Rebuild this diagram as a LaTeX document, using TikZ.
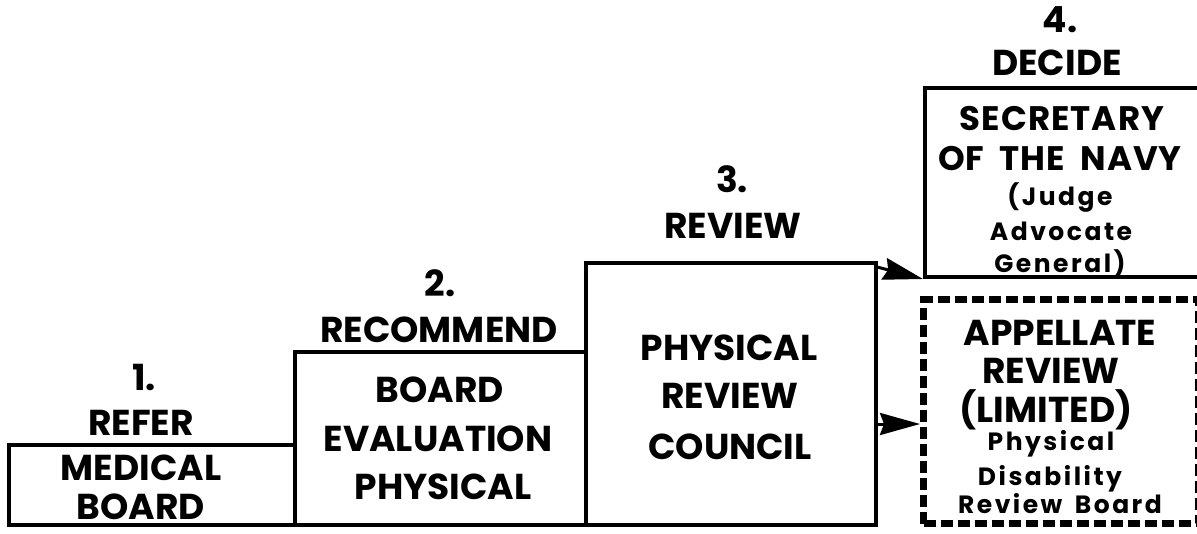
\documentclass[tikz,border=0pt]{standalone}
\usepackage{fontspec}
\usetikzlibrary{arrows.meta}
\newfontfamily\fut{Poppins}
\newfontfamily\futsp{Poppins}[LetterSpace=10]
\newfontfamily\futmid{Poppins}[LetterSpace=3]
\newcommand\tbig{\fut\bfseries\fontsize{36}{40}\selectfont}
\newcommand\tmid{\futmid\bfseries\fontsize{34}{38}\selectfont}
\newcommand\tsmall{\futsp\bfseries\fontsize{25}{30}\selectfont}
\begin{document}
\begin{tikzpicture}[x=1pt,y=-1pt,
  box/.style={draw, line width=4pt, inner sep=0pt, anchor=south west},
  dbox/.style={draw, line width=7pt, inner sep=0pt, anchor=south west, dash pattern=on 12pt off 5pt},
  tb/.style={font=\tbig, anchor=base, inner sep=0pt},
  tm/.style={font=\tmid, anchor=base, inner sep=0pt},
  ts/.style={font=\tsmall, anchor=base, inner sep=0pt},
  arr/.style={line width=3pt, -{Stealth[length=40pt,width=22pt,inset=4pt]}}]
\useasboundingbox (0,0) rectangle (1197,533);
% boxes
\node[box, minimum width=286pt, minimum height=80pt] (b1) at (7,527) {};
\node[box, minimum width=291pt, minimum height=173pt] (b2) at (293,527) {};
\node[box, minimum width=290pt, minimum height=262pt] (b3) at (584,527) {};
\node[box, minimum width=280pt, minimum height=189pt] (b4) at (923,279) {};
\node[dbox, minimum width=275pt, minimum height=224pt] (b5) at (920,527) {};
% step labels
\node[tb] (l1a) at (144,390) {1.};
\node[tb] (l1b) at (141,435) {REFER};
\node[tb] (l2a) at (440,296) {2.};
\node[tb] (l2b) at (439,342) {RECOMMEND};
\node[tb] (l3a) at (732,192) {3.};
\node[tb] (l3b) at (733,238) {REVIEW};
\node[tb] (l4a) at (1060,32) {4.};
\node[tb] (l4b) at (1057,75) {DECIDE};
% box texts
\node[tb] (t1a) at (141,480) {MEDICAL};
\node[tb] (t1b) at (141,519) {BOARD};
\node[tb] (t2a) at (440,402) {BOARD};
\node[tb] (t2b) at (438,451) {EVALUATION};
\node[tb] (t2c) at (443,499) {PHYSICAL};
\node[tb] (t3a) at (729,360) {PHYSICAL};
\node[tb] (t3b) at (730,408) {REVIEW};
\node[tb] (t3c) at (730,459) {COUNCIL};
\node[tm] (t4a) at (1062,130) {SECRETARY};
\node[tm] (t4b) at (1060,170) {OF\hspace{0.45em}THE\hspace{0.45em}NAVY};
\node[ts] (t4c) at (1060,205) {(Judge};
\node[ts] (t4d) at (1061,240) {Advocate};
\node[ts] (t4e) at (1060,272) {General)};
\node[tb] (t5a) at (1060,345) {APPELLATE};
\node[tb] (t5b) at (1051,383) {REVIEW};
\node[tb] (t5c) at (1046,422) {(LIMITED)};
\node[ts] (t5d) at (1051,450) {Physical};
\node[ts] (t5e) at (1050,485) {Disability};
\node[ts] (t5f) at (1060,513) {Review\hspace{0.5em}Board};
% arrows
\coordinate (a1s) at (877,267);
\coordinate (a2s) at (875,424);
\draw[arr] (a1s) -- (b4.south west);
\draw[arr] (a2s) -- (a2s -| b5.west);
\end{tikzpicture}
\end{document}
